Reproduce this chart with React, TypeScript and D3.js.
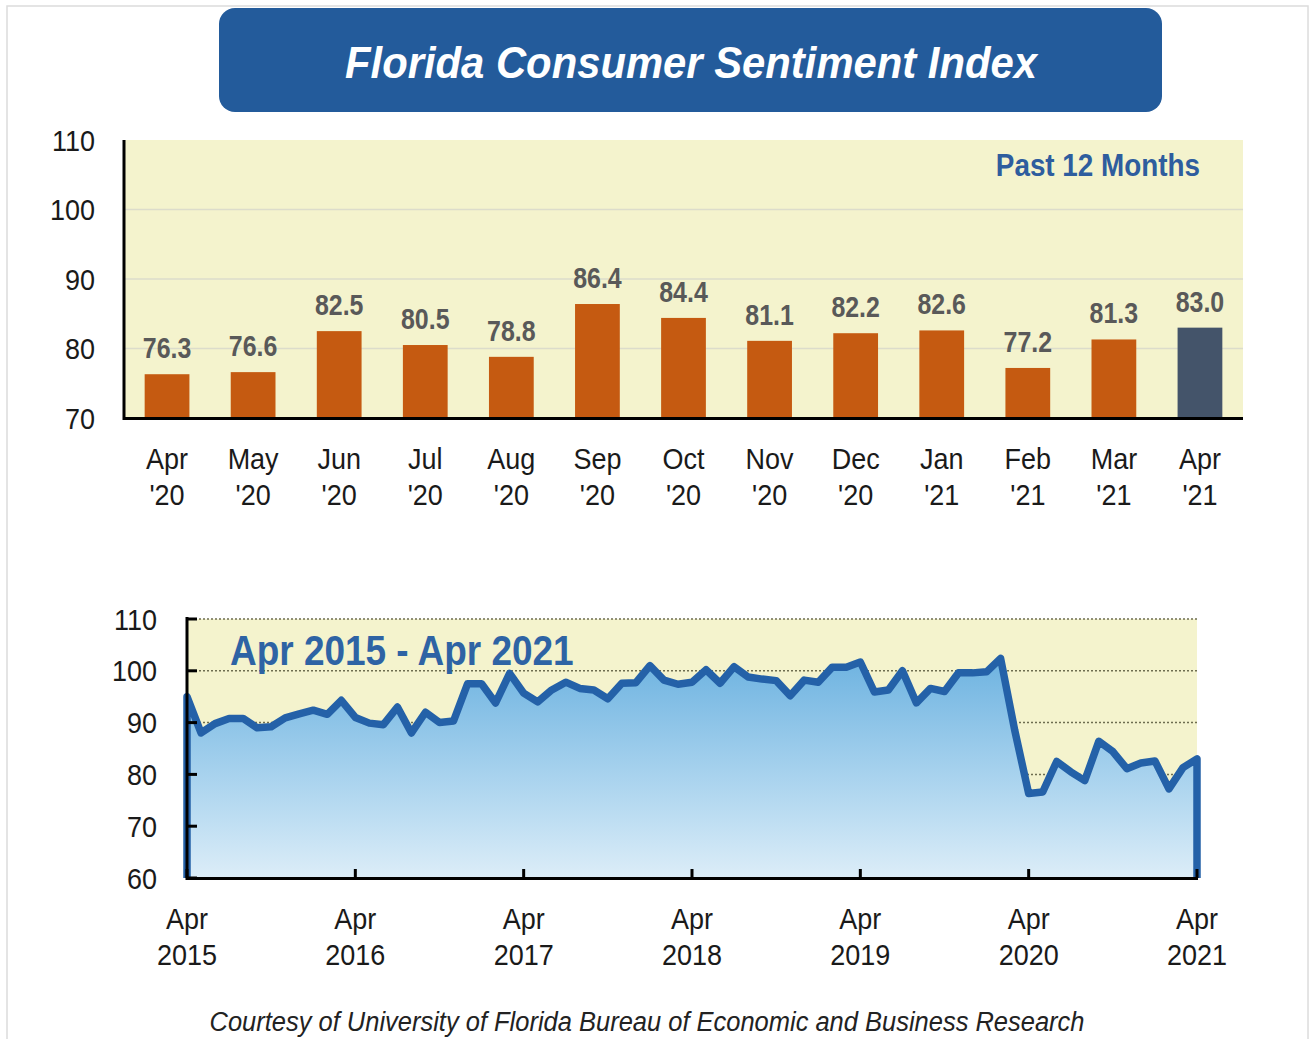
import React from "react";
import * as d3 from "d3";

const months = ["Apr", "May", "Jun", "Jul", "Aug", "Sep", "Oct", "Nov", "Dec", "Jan", "Feb", "Mar", "Apr"];
const monthYears = ["'20", "'20", "'20", "'20", "'20", "'20", "'20", "'20", "'20", "'21", "'21", "'21", "'21"];
const recentValues = [76.3, 76.6, 82.5, 80.5, 78.8, 86.4, 84.4, 81.1, 82.2, 82.6, 77.2, 81.3, 83.0];
const topTicks = [70, 80, 90, 100, 110];

// Monthly index, Apr 2015 - Apr 2021 (73 months)
const historyValues = [
  95.0, 88.0, 89.8, 90.8, 90.8, 89.0, 89.2, 90.9, 91.7, 92.4, 91.6, 94.3,
  91.0, 89.9, 89.6, 93.0, 88.0, 92.0, 90.0, 90.3, 97.5, 97.5, 93.8, 99.5,
  95.7, 94.0, 96.3, 97.8, 96.6, 96.3, 94.6, 97.6, 97.7, 101.0, 98.2, 97.4,
  97.8, 100.2, 97.6, 100.8, 98.8, 98.4, 98.1, 95.2, 98.2, 97.8, 100.7, 100.7,
  101.7, 95.9, 96.3, 100.0, 93.8, 96.6, 96.0, 99.6, 99.6, 99.8, 102.4, 88.6,
  76.3, 76.6, 82.5, 80.5, 78.8, 86.4, 84.4, 81.1, 82.2, 82.6, 77.2, 81.3, 83.0,
];
const yearLabels = ["2015", "2016", "2017", "2018", "2019", "2020", "2021"];
const bottomTicks = [60, 70, 80, 90, 100, 110];
const gridBottom = [70, 80, 90, 100, 110];

const FONT = "'Liberation Sans', Arial, Helvetica, sans-serif";

type CTextProps = {
  x: number;
  y: number;
  sx?: number;
  anchor?: "start" | "middle" | "end";
  size: number;
  weight?: string;
  italic?: boolean;
  fill?: string;
  children: React.ReactNode;
};

function CText({ x, y, sx = 0.9, anchor = "middle", size, weight = "normal", italic = false, fill = "#1a1a1a", children }: CTextProps) {
  return (
    <g transform={`translate(${x},${y}) scale(${sx},1)`}>
      <text x={0} y={0} textAnchor={anchor} fontSize={size} fontWeight={weight}
        fontStyle={italic ? "italic" : "normal"} fill={fill}>
        {children}
      </text>
    </g>
  );
}

export default function App() {
  const xTop = d3.scaleBand<number>()
    .domain(d3.range(recentValues.length))
    .range([124, 1243])
    .paddingInner(0.48)
    .paddingOuter(0.24);
  const yTop = d3.scaleLinear().domain([70, 110]).range([418, 140]);

  const xBot = d3.scaleLinear().domain([0, historyValues.length - 1]).range([187, 1197]);
  const yBot = d3.scaleLinear().domain([60, 110]).range([878, 619]);

  const area = d3.area<number>()
    .x((_, i) => xBot(i))
    .y0(yBot(60))
    .y1((d) => yBot(d));
  const line = d3.line<number>()
    .x((_, i) => xBot(i))
    .y((d) => yBot(d));
  const n = historyValues.length;
  const outline =
    `M${xBot(0)},${yBot(60)}L` + line(historyValues)!.slice(1) + `L${xBot(n - 1)},${yBot(60)}`;

  const cx = (i: number) => xTop(i)! + xTop.bandwidth() / 2;

  return (
    <svg
      width={1310}
      height={1039}
      style={{ position: "absolute", left: 0, top: 0, background: "#ffffff" }}
      fontFamily={FONT}
    >
      <defs>
        <linearGradient id="areaGrad" x1="0" y1={yBot(103)} x2="0" y2={yBot(60)} gradientUnits="userSpaceOnUse">
          <stop offset="0" stopColor="#6cb2e0" />
          <stop offset="0.55" stopColor="#a9d3ee" />
          <stop offset="1" stopColor="#dcedf8" />
        </linearGradient>
      </defs>
      <rect x={7} y={6} width={1301} height={1045} fill="none" stroke="#dcdcdc" strokeWidth={1.5} />

      {/* Title */}
      <rect x={219} y={8} width={943} height={104} rx={16} fill="#235b9b" />
      <text x={691} y={78} textAnchor="middle" fill="#ffffff" fontSize={45} fontWeight="bold" fontStyle="italic"
        textLength={692} lengthAdjust="spacingAndGlyphs">
        Florida Consumer Sentiment Index
      </text>

      {/* Top chart */}
      <rect x={124} y={140} width={1119} height={278} fill="#f4f3cd" />
      {topTicks.filter((t) => t > 70 && t < 110).map((t) => (
        <line key={t} x1={124} x2={1243} y1={yTop(t)} y2={yTop(t)} stroke="#dcdccb" strokeWidth={1.5} />
      ))}
      {recentValues.map((v, i) => (
        <rect key={i} x={xTop(i)} y={yTop(v)} width={xTop.bandwidth()} height={yTop(70) - yTop(v)}
          fill={i === recentValues.length - 1 ? "#44546a" : "#c55a11"} />
      ))}
      {recentValues.map((v, i) => (
        <CText key={i} x={cx(i)} y={yTop(v) - 16} size={29} weight="bold" fill="#595959" sx={0.86}>
          {v.toFixed(1)}
        </CText>
      ))}
      <line x1={124} x2={124} y1={140} y2={420} stroke="#000" strokeWidth={3} />
      <line x1={123} x2={1243} y1={418.5} y2={418.5} stroke="#000" strokeWidth={3} />
      {topTicks.map((t) => (
        <CText key={t} x={95} y={yTop(t) + 10.5} anchor="end" size={30}>{t}</CText>
      ))}
      {months.map((m, i) => (
        <g key={i}>
          <CText x={cx(i)} y={469} size={30}>{m}</CText>
          <CText x={cx(i)} y={505} size={30}>{monthYears[i]}</CText>
        </g>
      ))}
      <CText x={1200} y={176} anchor="end" size={32} weight="bold" fill="#2e5d9e" sx={0.87}>Past 12 Months</CText>

      {/* Bottom chart */}
      <rect x={187} y={619} width={1010} height={259} fill="#f4f3cd" />
      {gridBottom.map((t) => (
        <line key={t} x1={187} x2={1197} y1={yBot(t)} y2={yBot(t)} stroke="#6e6e50" strokeWidth={1.5} strokeDasharray="2,2" />
      ))}
      <CText x={230} y={665} anchor="start" size={42} weight="bold" fill="#2e63a4" sx={0.88}>Apr 2015 - Apr 2021</CText>
      <path d={area(historyValues)!} fill="url(#areaGrad)" />
      <path d={outline} fill="none" stroke="#2461a8" strokeWidth={7.5} strokeLinejoin="round" />
      <line x1={187} x2={187} y1={617} y2={880} stroke="#000" strokeWidth={3} />
      <line x1={186} x2={1198} y1={878.5} y2={878.5} stroke="#000" strokeWidth={3} />
      {bottomTicks.map((t) => (
        <g key={t}>
          <line x1={187} x2={197} y1={yBot(t)} y2={yBot(t)} stroke="#000" strokeWidth={3} />
          <CText x={157} y={yBot(t) + 10.5} anchor="end" size={30}>{t}</CText>
        </g>
      ))}
      {yearLabels.map((yl, k) => (
        <g key={yl}>
          <line x1={xBot(k * 12)} x2={xBot(k * 12)} y1={869} y2={878} stroke="#000" strokeWidth={3} />
          <CText x={xBot(k * 12)} y={929} size={30}>Apr</CText>
          <CText x={xBot(k * 12)} y={965} size={30}>{yl}</CText>
        </g>
      ))}

      {/* Footer */}
      <text x={647} y={1031} textAnchor="middle" fontSize={27} fontStyle="italic" fill="#222"
        textLength={875} lengthAdjust="spacingAndGlyphs">
        Courtesy of University of Florida Bureau of Economic and Business Research
      </text>
    </svg>
  );
}
